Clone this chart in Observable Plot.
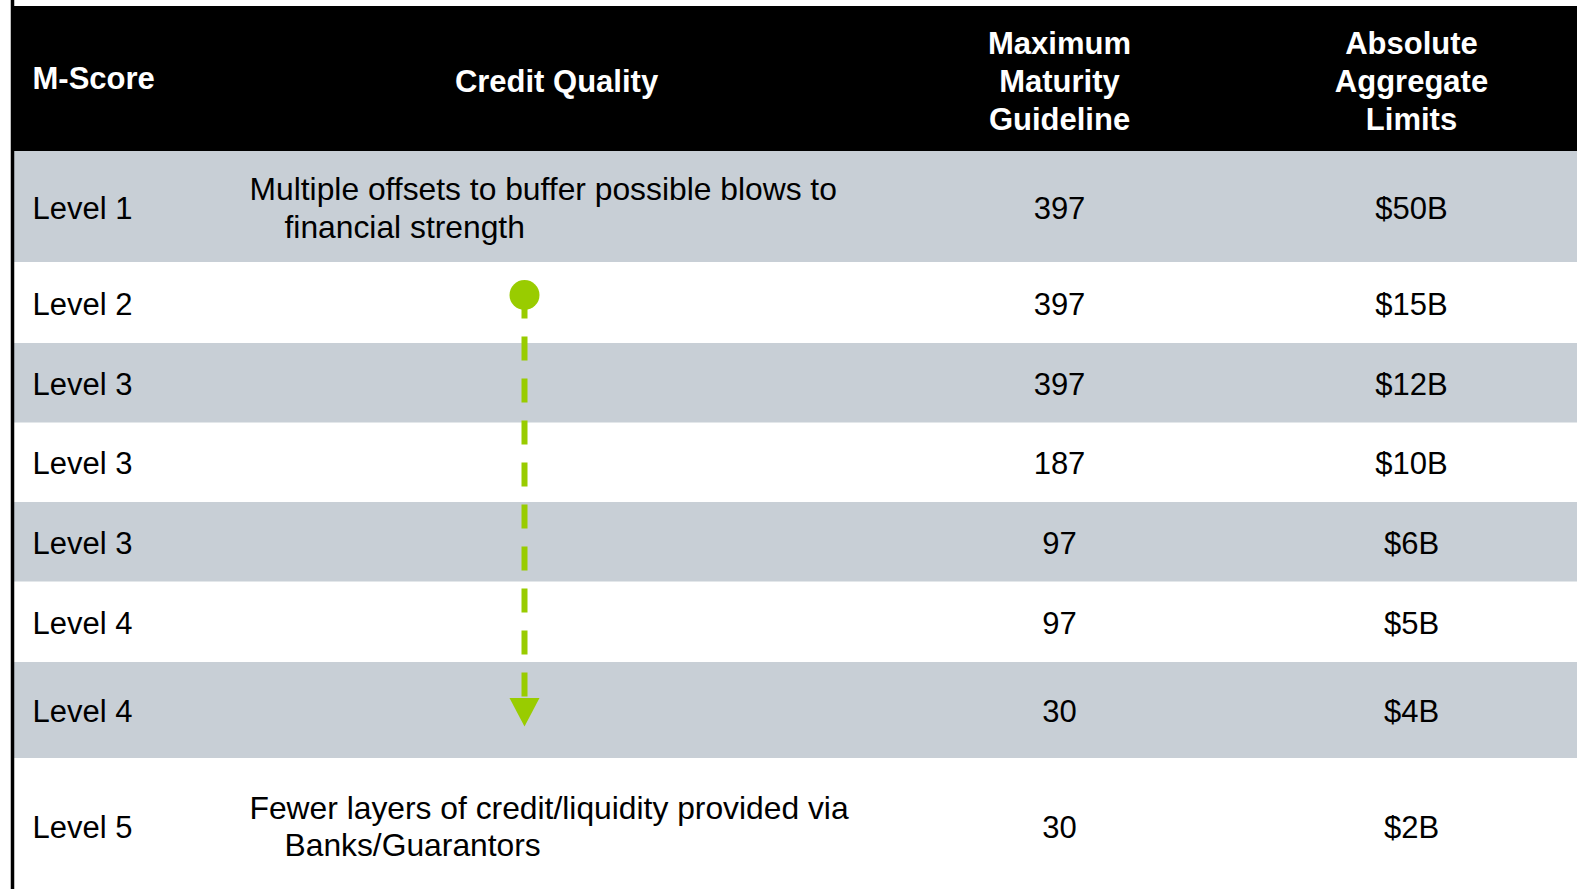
<!DOCTYPE html>
<html>
<head>
<meta charset="utf-8">
<script src="https://cdn.jsdelivr.net/npm/d3@7"></script>
<script src="https://cdn.jsdelivr.net/npm/@observablehq/plot@0.6"></script>
<style>
  html, body { margin: 0; padding: 0; background: #ffffff; overflow: hidden; }
  #chart svg { display: block; }
</style>
</head>
<body>
<div id="chart"></div>
<script>
// ---- DATA ----
const headers = ["M-Score", "Credit Quality", "Maximum\nMaturity\nGuideline", "Absolute\nAggregate\nLimits"];
const mScores = ["Level 1", "Level 2", "Level 3", "Level 3", "Level 3", "Level 4", "Level 4", "Level 5"];
const maxMaturity = [397, 397, 397, 187, 97, 97, 30, 30];
const aggregateLimits = ["$50B", "$15B", "$12B", "$10B", "$6B", "$5B", "$4B", "$2B"];
const creditQuality = [
  ["Multiple offsets to buffer possible blows to", "financial strength"],
  null, null, null, null, null, null,
  ["Fewer layers of credit/liquidity provided via", "Banks/Guarantors"]
];
const arrowFromRow = 1; // Level 2
const arrowToRow = 6;   // Level 4

// ---- LAYOUT (pixel units of the table) ----
const W = 1577, H = 889;
const headerBand = {y1: 6, y2: 151, x1: 12};
const rowEdges = [151, 262, 343, 422.5, 502, 581.5, 662, 758, 896];
const rowTextY = [209, 305, 385, 463.5, 543.5, 624, 711.5, 827.5];
const headerTextY = 79;
const colX = [32, 556, 1059, 1411];
const descX = [249, 284];
const descOffset = [-19.5, 18];
const arrowX = 524;
const green = "#99CC00", gray = "#C8CFD6";
const font = "'Liberation Sans', Arial, Helvetica, sans-serif";

const rows = mScores.map((m, i) => ({
  i, m, mat: maxMaturity[i], lim: aggregateLimits[i],
  y1: rowEdges[i], y2: rowEdges[i + 1], y: rowTextY[i],
  fill: i % 2 === 0 ? gray : "#ffffff"
}));
const headerCells = headers.map((h, j) => ({h, x: colX[j], y: headerTextY}));
const descLines = [];
creditQuality.forEach((d, i) => {
  if (!d) return;
  d.forEach((line, k) => descLines.push({text: line, x: descX[k], y: rowTextY[i] + descOffset[k]}));
});

const yStart = 294.5;
const yTip = 726;
const arrowLine = [{x: arrowX, y1: yStart, y2: yTip - 28.5}];
const arrowHead = [{x: arrowX, y: yTip - 14.25}];
const arrowDot = [{x: arrowX, y: yStart}];

const downTriangle = {
  draw(context, size) {
    const h = Math.sqrt(size / Math.PI);
    context.moveTo(-h, -h * 0.95);
    context.lineTo(h, -h * 0.95);
    context.lineTo(0, h * 0.95);
    context.closePath();
  }
};

const chart = Plot.plot({
  width: W,
  height: H,
  margin: 0,
  style: {fontFamily: font, background: "#ffffff"},
  x: {type: "linear", domain: [0, W], range: [0, W], axis: null},
  y: {type: "linear", domain: [0, H], range: [0, H], axis: null},
  marks: [
    // row backgrounds
    Plot.rect(rows.filter(r => r.fill !== "#ffffff"), {x1: 14, x2: W, y1: "y1", y2: "y2", fill: "fill"}),
    // header band
    Plot.rect([headerBand], {x1: "x1", x2: W, y1: "y1", y2: "y2", fill: "#000000"}),
    // left border
    Plot.ruleX([headerBand.x1], {y1: 0, y2: H, stroke: "#000000", strokeWidth: 3.5}),
    // header texts
    Plot.text(headerCells.slice(0, 1), {x: "x", y: "y", text: "h", fill: "#ffffff", fontWeight: "bold", fontSize: 31, textAnchor: "start", lineAnchor: "middle"}),
    Plot.text(headerCells.slice(1), {x: "x", y: "y", text: "h", fill: "#ffffff", fontWeight: "bold", fontSize: 31, textAnchor: "middle", lineAnchor: "middle", lineHeight: 1.23}),
    // M-Score column
    Plot.text(rows, {x: colX[0], y: "y", text: "m", fill: "#000000", fontSize: 31, textAnchor: "start", lineAnchor: "middle"}),
    // credit quality descriptions
    Plot.text(descLines, {x: "x", y: "y", text: "text", fill: "#000000", fontSize: 31.8, textAnchor: "start", lineAnchor: "middle"}),
    // maturity and limits
    Plot.text(rows, {x: colX[2], y: "y", text: d => String(d.mat), fill: "#000000", fontSize: 31, textAnchor: "middle", lineAnchor: "middle"}),
    Plot.text(rows, {x: colX[3], y: "y", text: "lim", fill: "#000000", fontSize: 31, textAnchor: "middle", lineAnchor: "middle"}),
    // arrow
    Plot.ruleX(arrowLine, {x: "x", y1: "y1", y2: "y2", stroke: green, strokeWidth: 6, strokeDasharray: "24,18"}),
    Plot.dot(arrowDot, {x: "x", y: "y", r: 15, fill: green, stroke: "none"}),
    Plot.dot(arrowHead, {x: "x", y: "y", r: 15, symbol: downTriangle, fill: green, stroke: "none"})
  ]
});
document.getElementById("chart").appendChild(chart);
</script>
</body>
</html>
